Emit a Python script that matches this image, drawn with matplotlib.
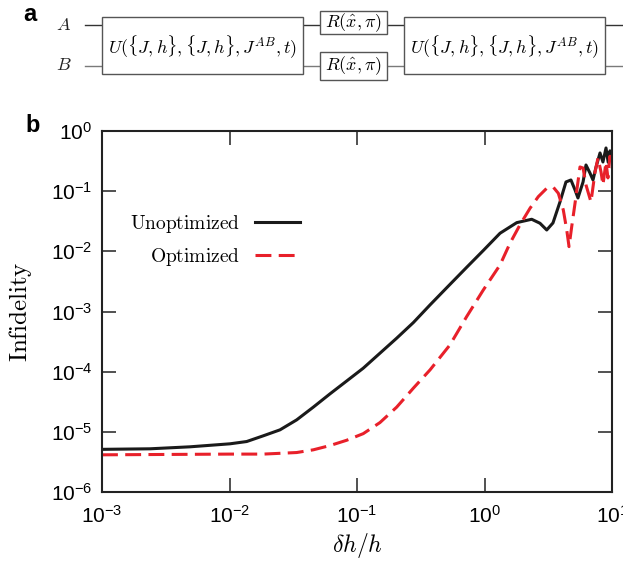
import numpy as np
import matplotlib
matplotlib.use("Agg")
import matplotlib.pyplot as plt
from matplotlib.patches import Rectangle
from matplotlib.ticker import FixedLocator, FuncFormatter, NullLocator

plt.rcParams["font.family"] = ["Liberation Sans", "DejaVu Sans"]
plt.rcParams["mathtext.fontset"] = "cm"

# ---- data (log10 of delta_h/h and of infidelity) ----
log_dh_unopt = [-3.000, -2.624, -2.310, -1.996, -1.865, -1.735, -1.604, -1.473,
                -1.343, -1.212, -1.081, -0.951, -0.820, -0.689, -0.558, -0.427,
                -0.271, -0.140, -0.009, 0.122, 0.253, 0.370, 0.435, 0.488,
                0.537, 0.592, 0.639, 0.678, 0.710, 0.733, 0.773, 0.796,
                0.827, 0.851, 0.875, 0.906, 0.929, 0.953, 0.970, 0.984, 1.000]
log_inf_unopt = [-5.291, -5.282, -5.249, -5.199, -5.161, -5.066, -4.967, -4.801,
                 -4.590, -4.369, -4.155, -3.942, -3.693, -3.444, -3.184, -2.890,
                 -2.550, -2.266, -1.985, -1.699, -1.523, -1.467, -1.533, -1.645,
                 -1.528, -1.179, -0.847, -0.814, -0.980, -1.113, -0.847, -0.565,
                 -0.698, -0.814, -0.598, -0.365, -0.515, -0.282, -0.520, -0.330, -0.420]

log_dh_opt = [-3.000, -1.996, -1.735, -1.473, -1.343, -1.212, -1.081, -0.951,
              -0.820, -0.689, -0.558, -0.427, -0.271, -0.140, -0.009, 0.122,
              0.200, 0.278, 0.357, 0.422, 0.488, 0.540, 0.579, 0.618,
              0.645, 0.663, 0.684, 0.710, 0.749, 0.773, 0.796, 0.835,
              0.867, 0.890, 0.914, 0.929, 0.953, 0.968, 0.984, 1.000]
log_inf_opt = [-5.382, -5.370, -5.370, -5.344, -5.299, -5.228, -5.140, -5.030,
               -4.846, -4.590, -4.274, -3.970, -3.555, -3.085, -2.641, -2.226,
               -1.865, -1.561, -1.284, -1.091, -0.952, -0.935, -1.035, -1.312,
               -1.645, -1.922, -1.590, -1.201, -0.598, -0.615, -0.897, -1.179,
               -0.681, -0.449, -0.681, -0.897, -0.515, -0.780, -0.420, -0.615]

series_labels = ["Unoptimized", "Optimized"]
x_decades = [-3, -2, -1, 0, 1]
y_decades = [-6, -5, -4, -3, -2, -1, 0]

x_u = 10.0 ** np.array(log_dh_unopt)
y_u = 10.0 ** np.array(log_inf_unopt)
x_o = 10.0 ** np.array(log_dh_opt)
y_o = 10.0 ** np.array(log_inf_opt)

W, H = 623, 562
fig = plt.figure(figsize=(W / 100, H / 100), dpi=100)

# ---- panel a: circuit diagram drawn in pixel space ----
dax = fig.add_axes([0, 0, 1, 1], zorder=0)
dax.set_xlim(0, W)
dax.set_ylim(H, 0)
dax.axis("off")

yA, yB = 25, 66
dax.plot([85, W], [yA, yA], color="#333333", lw=1.0, zorder=1)
dax.plot([85, W], [yB, yB], color="#7a7a7a", lw=1.0, zorder=1)

box_kw = dict(facecolor="white", edgecolor="#555555", lw=1.0, zorder=2)
u_text = r"$U(\{J,h\},\{J,h\},J^{AB},t)$"
r_text = r"$R(\hat{x},\pi)$"
for x0 in (102, 404):
    dax.add_patch(Rectangle((x0, 17), 201, 57, **box_kw))
    dax.text(x0 + 100.5, 47, u_text, ha="center", va="center", fontsize=13, zorder=3)
dax.add_patch(Rectangle((320, 11), 67, 23, **box_kw))
dax.add_patch(Rectangle((320, 52), 67, 28, **box_kw))
dax.text(353.5, 23, r_text, ha="center", va="center", fontsize=13, zorder=3)
dax.text(353.5, 66, r_text, ha="center", va="center", fontsize=13, zorder=3)
dax.text(64, yA + 1, r"$A$", ha="center", va="center", fontsize=13, color="#222222")
dax.text(64, yB, r"$B$", ha="center", va="center", fontsize=13, color="#222222")

fig.text(23 / W, 1 - 21 / H, "a", fontsize=17, fontweight="bold", ha="left", va="baseline")
fig.text(25 / W, 1 - 132 / H, "b", fontsize=17, fontweight="bold", ha="left", va="baseline")

# ---- panel b: infidelity vs field error ----
ax = fig.add_axes([102 / W, 1 - 492 / H, 510 / W, 361 / H], zorder=1)
ax.plot(x_u, y_u, color="#1a1a1a", lw=2.2, solid_joinstyle="round",
        label=r"$\mathrm{%s}$" % series_labels[0])
ax.plot(x_o, y_o, color="#e8202a", lw=2.2, dashes=(5.2, 2.4),
        label=r"$\mathrm{%s}$" % series_labels[1])

ax.set_xscale("log")
ax.set_yscale("log")
ax.set_xlim(10.0 ** x_decades[0], 10.0 ** x_decades[-1])
ax.set_ylim(10.0 ** y_decades[0], 10.0 ** y_decades[-1])

fmt = FuncFormatter(lambda v, pos: r"$\mathregular{10^{%d}}$" % int(round(np.log10(v))))
ax.xaxis.set_major_locator(FixedLocator([10.0 ** d for d in x_decades]))
ax.yaxis.set_major_locator(FixedLocator([10.0 ** d for d in y_decades]))
ax.xaxis.set_minor_locator(NullLocator())
ax.yaxis.set_minor_locator(NullLocator())
ax.xaxis.set_major_formatter(fmt)
ax.yaxis.set_major_formatter(fmt)
ax.tick_params(which="major", direction="in", length=10, width=1.1,
               top=True, right=True, labelsize=15, color="#222222")
ax.tick_params(axis="x", pad=9)
ax.tick_params(axis="y", pad=7)
for sp in ax.spines.values():
    sp.set_linewidth(1.5)
    sp.set_color("#222222")

ax.set_xlabel(r"$\delta h/h$", fontsize=17, labelpad=3)
ax.set_ylabel(r"$\mathrm{Infidelity}$", fontsize=18, labelpad=12)

leg = ax.legend(loc="upper right", bbox_to_anchor=(300 / W, 1 - 213 / H),
                bbox_transform=fig.transFigure, frameon=False, markerfirst=False,
                fontsize=14, handlelength=2.3, handletextpad=0.8,
                labelspacing=0.55, borderpad=0, borderaxespad=0)

fig.savefig("out.png", dpi=100)
